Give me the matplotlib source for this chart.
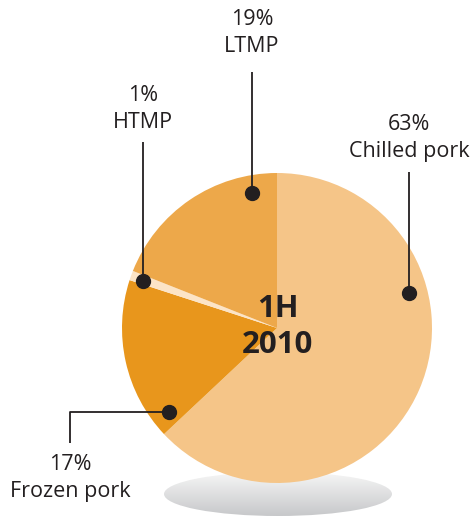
import numpy as np
import matplotlib.pyplot as plt
from matplotlib.patches import Ellipse
from matplotlib.colors import LinearSegmentedColormap

# data
labels = ['Chilled pork', 'Frozen pork', 'HTMP', 'LTMP']
shares = [63, 17, 1, 19]
center_text = '1H\n2010'

colors = ['#F5C588', '#E8961C', '#FCE4C6', '#EDA84A']
ink = '#231F20'

W, H = 474, 517
fig = plt.figure(figsize=(W / 100, H / 100), dpi=100)
ax = fig.add_axes([0, 0, 1, 1])

# pixel coords (y from top) -> axes data
def P(x, y):
    return x, H - y

cx, cy = P(277, 328)
R = 155

# shadow ellipse with vertical gradient
ex, ey = P(278, 494)
ell = Ellipse((ex, ey), 228, 44, facecolor='none', edgecolor='none')
ax.add_patch(ell)
grad = np.linspace(0, 1, 64)[:, None]
shade = LinearSegmentedColormap.from_list('sh', ['#C6C7C9', '#F7F7F7'])
img = ax.imshow(grad, extent=[ex - 115, ex + 115, ey - 23, ey + 23],
                cmap=shade, origin='lower', aspect='auto', zorder=1)
img.set_clip_path(ell)

wedges, _ = ax.pie(shares, colors=colors, startangle=90, counterclock=False,
                   center=(cx, cy), radius=R, frame=True,
                   wedgeprops=dict(linewidth=0))
for w in wedges:
    w.set_zorder(2)
ax.set_xlim(0, W)
ax.set_ylim(0, H)
ax.set_aspect('equal')
ax.axis('off')

ax.text(*P(278, 327), center_text, ha='center', va='center',
        fontsize=22.5, fontweight='bold', color=ink, family='Open Sans',
        linespacing=1.3, zorder=5)

# annotation layout: dot, leader path, text centre
lab_font = dict(fontsize=15.5, color=ink, family='Open Sans', ha='center',
                va='center', linespacing=1.4, zorder=5)
notes = [
    ((409, 293), [(409, 172)], (409, 138)),
    ((169, 412), [(70, 412), (70, 443)], (70, 478)),
    ((143, 281), [(143, 142)], (143, 109)),
    ((252, 193), [(252, 72)], (252, 33)),
]
for (lab, s), (dot, path, tpos) in zip(zip(labels, shares), notes):
    pts = [P(*dot)] + [P(*p) for p in path]
    xs, ys = zip(*pts)
    ax.plot(xs, ys, color=ink, lw=1.3, zorder=4, solid_capstyle='butt')
    ax.plot(*P(*dot), 'o', ms=10, color=ink, zorder=5)
    ax.text(*P(*tpos), f'{s}%\n{lab}', **lab_font)

fig.savefig('out.png', dpi=100)
